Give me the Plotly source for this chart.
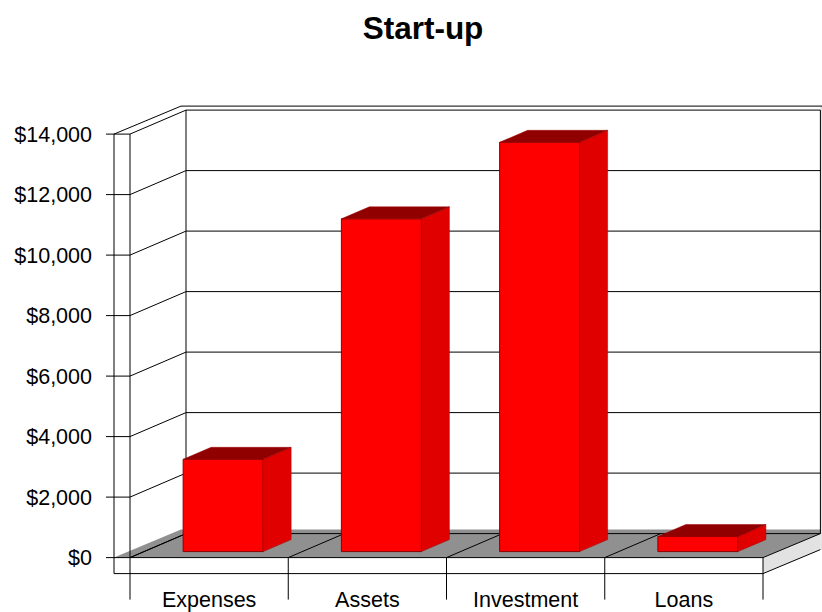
import plotly.graph_objects as go

# Chart content
CATEGORIES = ["Expenses", "Assets", "Investment", "Loans"]
VALUES = [3050, 11000, 13530, 500]
Y_TICKS = [0, 2000, 4000, 6000, 8000, 10000, 12000, 14000]
Y_LABELS = ["$0", "$2,000", "$4,000", "$6,000", "$8,000", "$10,000", "$12,000", "$14,000"]
TITLE = "Start-up"

# Canvas geometry of the oblique projection
WIDTH, HEIGHT = 822, 612
LEFT, RIGHT, TOP, BOTTOM = 93, 822, 95, 612
ORIGIN_X, ORIGIN_Y = 130.0, 557.6
PX_PER_CAT = 158.25
PX_PER_VALUE = 423.5 / 14000

def dx(px):
    return px / PX_PER_CAT

def dy(px):
    return px / PX_PER_VALUE

X_RANGE = [(LEFT - ORIGIN_X) / PX_PER_CAT, (RIGHT - ORIGIN_X) / PX_PER_CAT]
Y_RANGE = [(ORIGIN_Y - BOTTOM) / PX_PER_VALUE, (ORIGIN_Y - TOP) / PX_PER_VALUE]

N = len(CATEGORIES)
TOP_VALUE = Y_TICKS[-1]
WALL_X, WALL_Y = dx(56), dy(24)           # depth of the inner floor
OUTER_X, OUTER_Y = dx(67), dy(28)         # depth of the outer shell
SHELL_X, SHELL_Y = dx(16), dy(16)         # shell thickness
TICK_X = dx(24)
LABEL_TICK = dy(42)
EDGE_X = X_RANGE[1] - dx(1.6)
BAR_W = dx(80)
BAR_SHIFT_X, BAR_SHIFT_Y = dx(14), dy(6)
BAR_DEPTH_X, BAR_DEPTH_Y = dx(28), dy(12)

def segments(pairs):
    xs, ys = [], []
    for (x0, y0), (x1, y1) in pairs:
        xs += [x0, x1, None]
        ys += [y0, y1, None]
    return xs, ys

def polygon(points, color, z, edge=None, edge_width=0):
    xs = [p[0] for p in points] + [points[0][0]]
    ys = [p[1] for p in points] + [points[0][1]]
    return go.Scatter(x=xs, y=ys, mode="lines", fill="toself", fillcolor=color,
                      line=dict(color=edge or color, width=edge_width), hoverinfo="skip",
                      showlegend=False, zorder=z)

fig = go.Figure()

# Floor slab and right-hand shell
fig.add_trace(polygon([(-SHELL_X, 0), (-SHELL_X + OUTER_X, OUTER_Y), (X_RANGE[1], OUTER_Y),
                       (X_RANGE[1], WALL_Y), (N, 0)], "#909090", 0))
fig.add_trace(polygon([(N, 0), (EDGE_X, WALL_Y), (EDGE_X, WALL_Y - SHELL_Y), (N, -SHELL_Y)], "#E2E2E2", 0))
fig.add_trace(polygon([(EDGE_X, TOP_VALUE + OUTER_Y), (X_RANGE[1], TOP_VALUE + OUTER_Y),
                       (X_RANGE[1], WALL_Y - SHELL_Y), (EDGE_X, WALL_Y - SHELL_Y)], "#E2E2E2", 0))

# Walls, grid and axis lines
lines = []
for v in Y_TICKS:
    lines.append(((-TICK_X, v), (0, v)))
    lines.append(((0, v), (WALL_X, v + WALL_Y)))
    lines.append(((WALL_X, v + WALL_Y), (EDGE_X, v + WALL_Y)))
for i in range(N + 1):
    lines.append(((i, 0), (i, -LABEL_TICK)))
    if i < N:
        lines.append(((i, 0), (i + WALL_X, WALL_Y)))
lines += [
    ((N, 0), (EDGE_X, WALL_Y)),
    ((N, -SHELL_Y), (EDGE_X, WALL_Y - SHELL_Y)),
    ((0, 0), (0, TOP_VALUE)),
    ((WALL_X, WALL_Y), (WALL_X, TOP_VALUE + WALL_Y)),
    ((EDGE_X, WALL_Y), (EDGE_X, TOP_VALUE + WALL_Y)),
    ((0, 0), (N, 0)),
    ((-SHELL_X, -SHELL_Y), (N, -SHELL_Y)),
    ((-SHELL_X, -SHELL_Y), (-SHELL_X, TOP_VALUE)),
    ((-SHELL_X, TOP_VALUE), (-SHELL_X + OUTER_X, TOP_VALUE + OUTER_Y)),
    ((-SHELL_X + OUTER_X, TOP_VALUE + OUTER_Y), (X_RANGE[1], TOP_VALUE + OUTER_Y)),
]
lx, ly = segments(lines)
fig.add_trace(go.Scatter(x=lx, y=ly, mode="lines", line=dict(color="#000000", width=1),
                         hoverinfo="skip", showlegend=False, zorder=1))

# Front faces of the bars
centers = [i + 0.5 + BAR_SHIFT_X for i in range(N)]
fig.add_trace(go.Bar(x=centers, y=VALUES, base=BAR_SHIFT_Y, width=BAR_W,
                     marker=dict(color="#FF0000", line=dict(color="#8B0000", width=1)),
                     hoverinfo="skip", showlegend=False, zorder=2))

# Side and top faces of the bars
for c, v in zip(centers, VALUES):
    x0, x1 = c - BAR_W / 2, c + BAR_W / 2
    y0, y1 = BAR_SHIFT_Y, BAR_SHIFT_Y + v
    side = [(x1, y0), (x1 + BAR_DEPTH_X, y0 + BAR_DEPTH_Y), (x1 + BAR_DEPTH_X, y1 + BAR_DEPTH_Y), (x1, y1)]
    top = [(x0, y1), (x0 + BAR_DEPTH_X, y1 + BAR_DEPTH_Y), (x1 + BAR_DEPTH_X, y1 + BAR_DEPTH_Y), (x1, y1)]
    fig.add_trace(polygon(side, "#E00000", 3, "#A00000", 0.5))
    fig.add_trace(polygon(top, "#900000", 3, "#A00000", 0.5))

TICK_FONT = dict(family="Liberation Sans, Arial, sans-serif", color="#000000", size=21.5)

fig.update_layout(
    width=WIDTH, height=HEIGHT,
    margin=dict(l=LEFT, r=WIDTH - RIGHT, t=TOP, b=HEIGHT - BOTTOM, autoexpand=False),
    paper_bgcolor="#FFFFFF", plot_bgcolor="rgba(0,0,0,0)",
    font=dict(family="Liberation Sans, Arial, sans-serif", color="#000000", size=21),
    title=dict(text=f"<b>{TITLE}</b>", x=423 / WIDTH, xanchor="center", y=1 - 28 / HEIGHT,
               yanchor="middle", font=dict(size=31.5)),
    showlegend=False,
    xaxis=dict(range=X_RANGE, showgrid=False, zeroline=False, showline=False,
               tickmode="array", tickvals=[i + 0.5 for i in range(N)], ticktext=CATEGORIES,
               ticks="", ticklabelposition="inside", ticklabelstandoff=-2,
               tickfont=TICK_FONT, fixedrange=True),
    yaxis=dict(range=Y_RANGE, showgrid=False, zeroline=False, showline=False,
               tickmode="array", tickvals=Y_TICKS, ticktext=Y_LABELS,
               ticks="", tickfont=TICK_FONT, fixedrange=True),
)

fig.write_html("out.html", config=dict(displayModeBar=False))
